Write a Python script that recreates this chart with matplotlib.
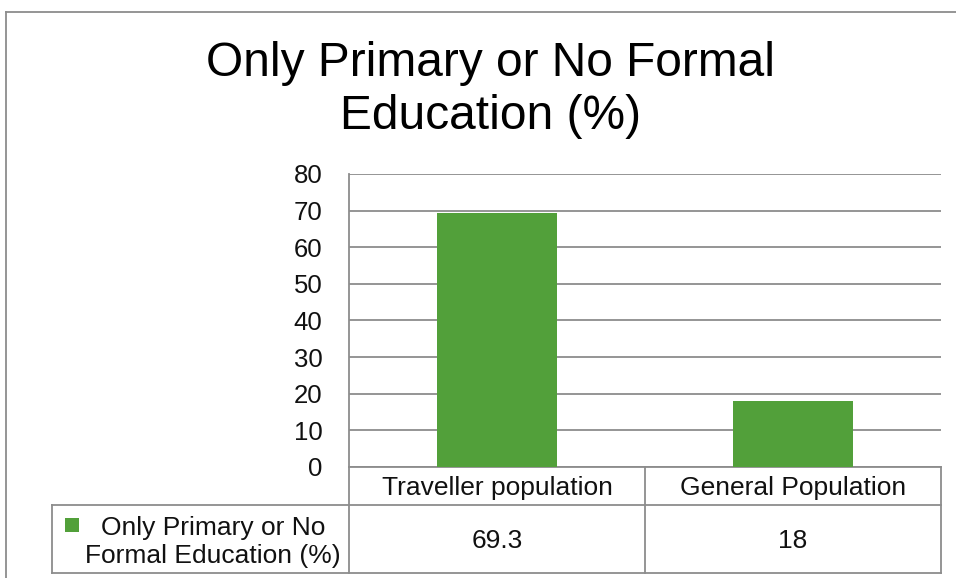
import matplotlib
matplotlib.use("Agg")
import matplotlib.pyplot as plt
from matplotlib.lines import Line2D
from matplotlib.patches import Rectangle

plt.rcParams['font.family'] = ['Liberation Sans', 'DejaVu Sans']

# Chart data
title = "Only Primary or No Formal\nEducation (%)"
series_name = "Only Primary or No\nFormal Education (%)"
categories = ["Traveller population", "General Population"]
values = [69.3, 18]
value_labels = ["69.3", "18"]
y_ticks = [0, 10, 20, 30, 40, 50, 60, 70, 80]

W, H = 956, 578
BAR_COLOR = "#52A03A"
GRID_COLOR = "#8C8C8C"
TEXT_COLOR = "#111111"

fig = plt.figure(figsize=(W / 100, H / 100), dpi=100)
fig.patch.set_facecolor("white")


def fx(px):
    return px / W


def fy(py):
    return 1 - py / H


# plot area (pixel box)
L, R, T, B = 349, 941, 174, 467
ax = fig.add_axes([fx(L), fy(B), fx(R - L), fy(T) - fy(B)])
x = list(range(len(categories)))
ax.bar(x, values, width=0.405, color=BAR_COLOR, zorder=3)
ax.set_xlim(-0.5, len(categories) - 0.5)
ax.set_ylim(0, 80)
ax.set_yticks(y_ticks)
ax.set_yticklabels([str(t) for t in y_ticks], fontsize=18.5, color=TEXT_COLOR)
ax.tick_params(axis="y", length=0, pad=19)
ax.set_xticks([])
ax.yaxis.grid(True, color=GRID_COLOR, linewidth=1.3)
ax.set_axisbelow(True)
for s in ("top", "right"):
    ax.spines[s].set_visible(False)
for s in ("left", "bottom"):
    ax.spines[s].set_color(GRID_COLOR)
    ax.spines[s].set_linewidth(1.3)

# data table below the plot area
def hline(py, x0, x1):
    fig.add_artist(Line2D([fx(x0), fx(x1)], [fy(py), fy(py)],
                          color=GRID_COLOR, linewidth=1.3))


def vline(px, y0, y1):
    fig.add_artist(Line2D([fx(px), fx(px)], [fy(y0), fy(y1)],
                          color=GRID_COLOR, linewidth=1.3))


row1, row2 = 505, 573
legend_left = 52
col_w = (R - L) / len(categories)
hline(row1, legend_left, R)
hline(row2, legend_left, R)
vline(legend_left, row1, row2)
vline(L, B, row2)
for i in range(len(categories)):
    vline(L + col_w * (i + 1), B, row2)

for i, (cat, lab) in enumerate(zip(categories, value_labels)):
    cx = L + col_w * (i + 0.5)
    fig.text(fx(cx), fy(488), cat, ha="center", va="center",
             fontsize=19, color=TEXT_COLOR)
    fig.text(fx(cx), fy(541), lab, ha="center", va="center",
             fontsize=19, color=TEXT_COLOR)

# legend key and series name
fig.add_artist(Rectangle((fx(65), fy(532)), fx(14), fy(518) - fy(532),
                         facecolor=BAR_COLOR, edgecolor="none"))
fig.text(fx(213), fy(542), series_name, ha="center", va="center",
         fontsize=19, color=TEXT_COLOR, linespacing=1.2)

# title
fig.text(fx(491), fy(90), title, ha="center", va="center",
         fontsize=34.5, color="black", linespacing=1.24)

# outer chart frame
fig.add_artist(Line2D([fx(6), fx(W)], [fy(12), fy(12)], color=GRID_COLOR, linewidth=1.3))
fig.add_artist(Line2D([fx(6), fx(6)], [fy(12), fy(H)], color=GRID_COLOR, linewidth=1.3))

fig.savefig("out.png", dpi=100)
